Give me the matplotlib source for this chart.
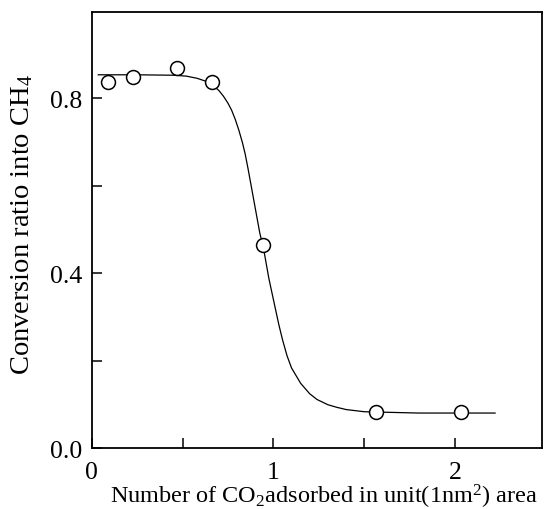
import matplotlib
matplotlib.use("Agg")
import matplotlib.pyplot as plt
from matplotlib.ticker import FixedLocator, FixedFormatter

plt.rcParams['font.family'] = ['Liberation Serif', 'DejaVu Serif']
plt.rcParams['mathtext.fontset'] = 'custom'
plt.rcParams['mathtext.rm'] = 'Liberation Serif'
plt.rcParams['mathtext.it'] = 'Liberation Serif:italic'

# measured points
pts_x = [0.091, 0.229, 0.468, 0.661, 0.942, 1.566, 2.033]
pts_y = [0.838, 0.848, 0.869, 0.838, 0.465, 0.082, 0.082]

# fitted curve
curve_x = [0.036, 0.25, 0.45, 0.52, 0.58, 0.63, 0.67, 0.70, 0.725, 0.75,
           0.77, 0.79, 0.81, 0.83, 0.845, 0.86, 0.875, 0.90, 0.925, 0.945,
           0.975, 1.005, 1.03, 1.05, 1.075, 1.10, 1.15, 1.20, 1.24, 1.30,
           1.35, 1.40, 1.50, 1.80, 2.22]
curve_y = [0.854, 0.854, 0.853, 0.851, 0.846, 0.839, 0.829, 0.818, 0.805,
           0.789, 0.773, 0.752, 0.727, 0.698, 0.672, 0.640, 0.606, 0.549,
           0.492, 0.458, 0.388, 0.330, 0.282, 0.248, 0.211, 0.183, 0.148,
           0.124, 0.111, 0.099, 0.093, 0.088, 0.083, 0.080, 0.080]

x_major = [0, 1, 2]
x_major_labels = ['0', '1', '2']
x_minor = [0.5, 1.5]
y_major = [0.0, 0.4, 0.8]
y_major_labels = ['0.0', '0.4', '0.8']
y_minor = [0.2, 0.6]

fig = plt.figure(figsize=(5.44, 5.10), dpi=100)
ax = fig.add_axes([0.1686, 0.1196, 0.9969 - 0.1686, 0.9739 - 0.1196])

ax.plot(curve_x, curve_y, color='black', lw=0.9, zorder=2)
ax.plot(pts_x, pts_y, linestyle='none', marker='o', ms=10,
        mfc='white', mec='black', mew=1.1, zorder=3)

ax.set_xlim(0, 2.48)
ax.set_ylim(0, 0.997)

ax.xaxis.set_major_locator(FixedLocator(x_major))
ax.xaxis.set_major_formatter(FixedFormatter(x_major_labels))
ax.xaxis.set_minor_locator(FixedLocator(x_minor))
ax.yaxis.set_major_locator(FixedLocator(y_major))
ax.yaxis.set_major_formatter(FixedFormatter(y_major_labels))
ax.yaxis.set_minor_locator(FixedLocator(y_minor))

ax.tick_params(which='both', direction='in', length=7, width=1.1,
               top=False, right=False, labelsize=18.5)
ax.tick_params(axis='x', which='major', pad=9)
ax.tick_params(axis='y', which='major', pad=7)

for s in ax.spines.values():
    s.set_linewidth(1.3)

ax.set_xlabel(r'Number of CO$_2$adsorbed in unit(1nm$^2$) area', fontsize=17.5)
ax.xaxis.set_label_coords(0.515, -0.125, transform=ax.transAxes)
ax.xaxis.label.set_va('baseline')
ax.set_ylabel(r'Conversion ratio into CH$_4$', fontsize=20.5)
ax.yaxis.set_label_coords(-0.126, 0.514, transform=ax.transAxes)

fig.savefig('out.png', dpi=100)
